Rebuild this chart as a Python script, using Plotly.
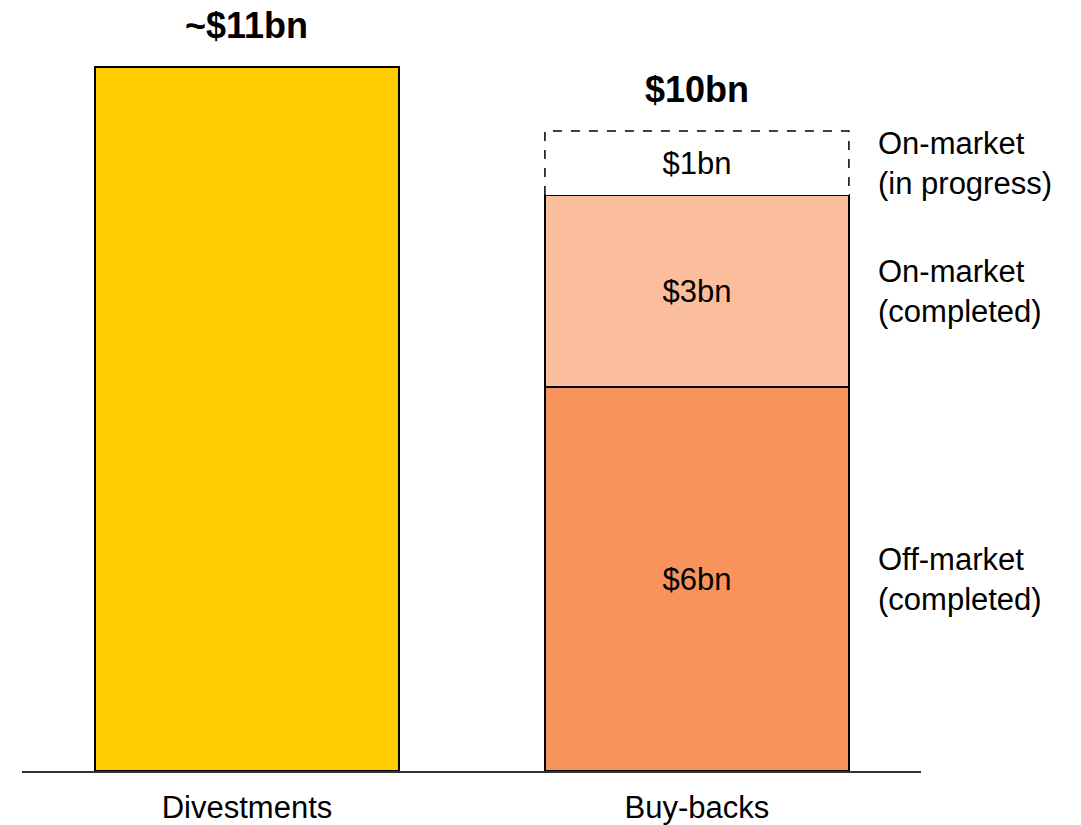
import plotly.graph_objects as go

# Categories and values ($bn)
categories = ["Divestments", "Buy-backs"]
divestments = [11]
offmarket_completed = [6]
onmarket_completed = [3]
onmarket_in_progress = [1]
totals = [11, 10]
total_labels = ["~$11bn", "$10bn"]
segment_labels = ["Off-market<br>(completed)", "On-market<br>(completed)", "On-market<br>(in progress)"]

FONT = "Liberation Sans, Arial, sans-serif"
BAR_W = 0.6756
YELLOW = "#FFCC00"
DARK_ORANGE = "#F9935C"
LIGHT_ORANGE = "#FBBE9C"
TXT = 31

fig = go.Figure()

fig.add_trace(go.Bar(
    x=[categories[0]], y=divestments, width=BAR_W,
    marker=dict(color=YELLOW, line=dict(color="black", width=1.5)),
    hoverinfo="skip",
))

bb = categories[1]
fig.add_trace(go.Bar(
    x=[bb], y=offmarket_completed, width=BAR_W,
    marker=dict(color=DARK_ORANGE, line=dict(color="black", width=1.5)),
    text=[f"${v}bn" for v in offmarket_completed], textposition="inside",
    insidetextanchor="middle", textfont=dict(family=FONT, size=TXT, color="black"),
    hoverinfo="skip",
))
fig.add_trace(go.Bar(
    x=[bb], y=onmarket_completed, width=BAR_W,
    marker=dict(color=LIGHT_ORANGE, line=dict(color="black", width=1.5)),
    text=[f"${v}bn" for v in onmarket_completed], textposition="inside",
    insidetextanchor="middle", textfont=dict(family=FONT, size=TXT, color="black"),
    hoverinfo="skip",
))
fig.add_trace(go.Bar(
    x=[bb], y=onmarket_in_progress, width=BAR_W,
    marker=dict(color="white", line=dict(color="white", width=0)),
    text=[f"${v}bn" for v in onmarket_in_progress], textposition="inside",
    insidetextanchor="middle", textfont=dict(family=FONT, size=TXT, color="black"),
    hoverinfo="skip",
))

# Dashed outline for the in-progress segment
base = offmarket_completed[0] + onmarket_completed[0]
top = base + onmarket_in_progress[0]
x0, x1 = 1 - BAR_W / 2, 1 + BAR_W / 2
fig.add_shape(type="path", xref="x", yref="y",
              path=f"M {x0},{base} L {x0},{top} L {x1},{top} L {x1},{base}",
              line=dict(color="black", width=1.5, dash="dash"))

# Totals above bars
for i, (t, lab) in enumerate(zip(totals, total_labels)):
    fig.add_annotation(x=i, y=t, text=f"<b>{lab}</b>", showarrow=False,
                       yanchor="bottom", yshift=19,
                       font=dict(family=FONT, size=36, color="black"))

# Segment descriptions to the right of the buy-backs bar
mids = [offmarket_completed[0] / 2,
        offmarket_completed[0] + onmarket_completed[0] / 2,
        base + onmarket_in_progress[0] / 2]
for m, lab in zip(mids, segment_labels):
    fig.add_annotation(x=1, y=m, text=lab, showarrow=False, xanchor="left",
                       align="left", xshift=179,
                       font=dict(family=FONT, size=TXT, color="black"))

fig.update_layout(
    barmode="stack",
    width=1081, height=825,
    margin=dict(l=22, r=160, t=0, b=54),
    plot_bgcolor="white", paper_bgcolor="white",
    showlegend=False,
    xaxis=dict(type="category", categoryarray=categories, range=[-0.5, 1.498],
               showgrid=False, zeroline=False, showline=True,
               linecolor="#333333", linewidth=2, ticks="",
               tickfont=dict(family=FONT, size=TXT, color="black"),
               ticklabelstandoff=8),
    yaxis=dict(range=[0, 771 / 64], visible=False, showgrid=False),
)

fig.write_html("out.html")
